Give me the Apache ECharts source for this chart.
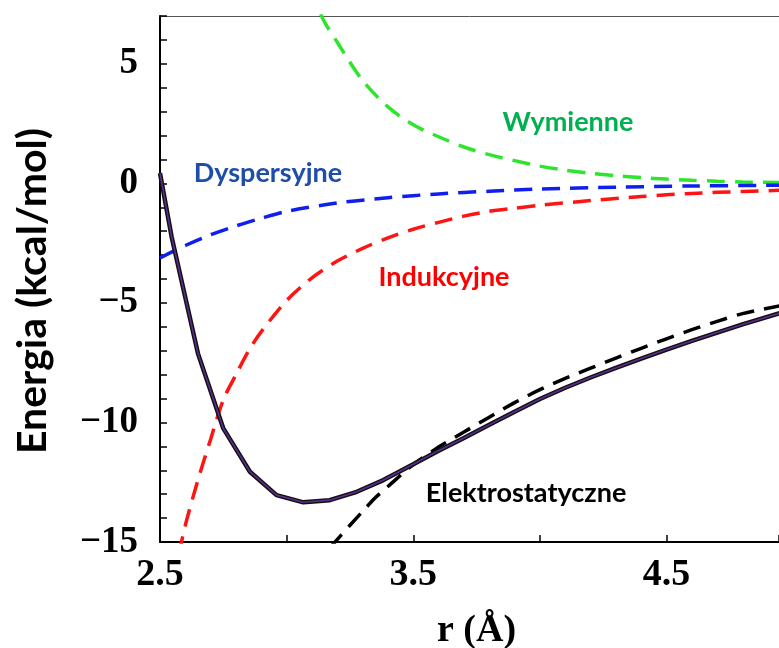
<!DOCTYPE html>
<html>
<head>
<meta charset="utf-8">
<script src="https://cdn.jsdelivr.net/npm/echarts@6/dist/echarts.min.js"></script>
<style>
  html, body { margin: 0; padding: 0; background: #fff; }
  #chart { width: 779px; height: 648px; }
</style>
</head>
<body>
<div id="chart"></div>
<script>
// odległość r (Å) i energie składowe (kcal/mol)
const exchR = [3.10, 3.14, 3.2, 3.3, 3.4, 3.5, 3.6, 3.7, 3.8, 3.9, 4.0, 4.1, 4.2, 4.3, 4.4, 4.5, 4.6, 4.7, 4.8, 4.95];
const exchE = [8.2, 6.95, 5.9, 4.3, 3.2, 2.45, 1.95, 1.52, 1.2, 0.95, 0.72, 0.55, 0.42, 0.32, 0.24, 0.18, 0.13, 0.09, 0.06, 0.03];

const dispR = [2.5, 2.6, 2.7, 2.8, 2.9, 3.0, 3.2, 3.4, 3.6, 3.8, 4.0, 4.3, 4.6, 4.95];
const dispE = [-3.12, -2.6, -2.15, -1.78, -1.46, -1.17, -0.82, -0.6, -0.44, -0.33, -0.24, -0.16, -0.11, -0.08];

const indR = [2.575, 2.6, 2.65, 2.7, 2.75, 2.8, 2.85, 2.9, 3.0, 3.1, 3.2, 3.3, 3.4, 3.5, 3.6, 3.7, 3.8, 3.9, 4.0, 4.2, 4.4, 4.6, 4.8, 4.95];
const indE = [-15.5, -14.3, -12.4, -10.7, -9.05, -8.0, -7.0, -6.2, -4.9, -3.95, -3.25, -2.72, -2.28, -1.92, -1.63, -1.37, -1.17, -1.04, -0.92, -0.72, -0.55, -0.42, -0.34, -0.29];

const elecR = [3.17, 3.25, 3.3, 3.35, 3.4, 3.5, 3.6, 3.7, 3.8, 3.9, 4.0, 4.1, 4.2, 4.3, 4.4, 4.5, 4.6, 4.7, 4.8, 4.95];
const elecE = [-15.25, -14.3, -13.72, -13.15, -12.68, -11.76, -11.03, -10.4, -9.78, -9.17, -8.63, -8.16, -7.73, -7.31, -6.9, -6.5, -6.12, -5.77, -5.45, -5.12];

const totR = [2.5, 2.546, 2.65, 2.75, 2.855, 2.96, 3.066, 3.17, 3.277, 3.382, 3.5, 3.6, 3.7, 3.8, 3.9, 4.0, 4.1, 4.2, 4.3, 4.4, 4.5, 4.6, 4.7, 4.8, 4.95];
const totE = [0.43, -2.24, -7.12, -10.25, -12.06, -13.04, -13.34, -13.25, -12.9, -12.41, -11.75, -11.18, -10.65, -10.1, -9.55, -9.02, -8.55, -8.12, -7.72, -7.33, -6.95, -6.59, -6.24, -5.9, -5.42];

// podpisy krzywych
const labels = ['Wymienne', 'Dyspersyjne', 'Indukcyjne', 'Elektrostatyczne'];

function pairs(xs, ys) {
  return xs.map((x, i) => [x, ys[i]]);
}

const chart = echarts.init(document.getElementById('chart'));

const labelFont = 'bold 27px Lato, "Open Sans", sans-serif';
const serif = '"Liberation Serif", "Times New Roman", serif';

chart.setOption({
  animation: false,
  grid: {
    left: 160,
    right: 0,
    top: 16,
    bottom: 106,
    outerBoundsMode: 'none'
  },
  xAxis: [
    {
      type: 'value',
      min: 2.5,
      max: 4.944,
      interval: 0.5,
      name: 'r (Å)',
      nameLocation: 'middle',
      nameGap: 70,
      nameTextStyle: {
        fontFamily: serif,
        fontWeight: 'bold',
        fontSize: 38,
        color: '#000',
        padding: [0, 0, 0, 14]
      },
      axisLine: { onZero: false, lineStyle: { color: '#000', width: 2 } },
      axisTick: { inside: true, length: 7, lineStyle: { color: '#000', width: 1.5 } },
      splitLine: { show: false },
      axisLabel: {
        margin: 14,
        fontFamily: serif,
        fontWeight: 'bold',
        fontSize: 38,
        color: '#000',
        formatter: function (v) {
          const k = v - 2.5;
          return Math.abs(k - Math.round(k)) < 1e-6 ? v.toFixed(1) : '';
        }
      }
    },
    {
      // górna ramka
      type: 'value',
      position: 'top',
      min: 2.5,
      max: 4.944,
      axisLine: { onZero: false, lineStyle: { color: '#555', width: 1 } },
      axisTick: { show: false },
      axisLabel: { show: false },
      splitLine: { show: false }
    }
  ],
  yAxis: {
    type: 'value',
    min: -15,
    max: 7,
    interval: 1,
    axisLine: { onZero: false, lineStyle: { color: '#000', width: 2 } },
    axisTick: { inside: true, length: 7, lineStyle: { color: '#000', width: 1.5 } },
    splitLine: { show: false },
    axisLabel: {
      margin: 22,
      fontFamily: serif,
      fontWeight: 'bold',
      fontSize: 37,
      color: '#000',
      formatter: function (v) {
        if (v % 5 !== 0 || v > 5) return '';
        return v < 0 ? '\u2212' + Math.abs(v) : String(v);
      }
    }
  },
  series: [
    {
      name: labels[0],
      type: 'line',
      data: pairs(exchR, exchE),
      smooth: 0.3,
      showSymbol: false,
      lineStyle: { color: '#2ee52e', width: 3.5, type: [18, 10] }
    },
    {
      name: labels[1],
      type: 'line',
      data: pairs(dispR, dispE),
      smooth: 0.3,
      showSymbol: false,
      lineStyle: { color: '#0f1ff0', width: 3.5, type: [18, 10] }
    },
    {
      name: labels[2],
      type: 'line',
      data: pairs(indR, indE),
      smooth: 0.3,
      showSymbol: false,
      lineStyle: { color: '#ff1414', width: 3.5, type: [18, 10] }
    },
    {
      name: labels[3],
      type: 'line',
      data: pairs(elecR, elecE),
      smooth: 0.3,
      showSymbol: false,
      lineStyle: { color: '#000', width: 3.5, type: [18, 10] }
    },
    // suma: czarny obrys + fioletowy środek
    {
      name: 'suma',
      type: 'line',
      data: pairs(totR, totE),
      showSymbol: false,
      lineStyle: { color: '#111', width: 4.5 }
    },
    {
      name: 'suma2',
      type: 'line',
      data: pairs(totR, totE),
      showSymbol: false,
      lineStyle: { color: '#5b2d8c', width: 1.6 }
    }
  ],
  graphic: [
    {
      type: 'text', x: 33, y: 291, rotation: Math.PI / 2,
      style: { text: 'Energia (kcal/mol)', fill: '#000', font: 'bold 41px Lato, "Open Sans", sans-serif', align: 'center', verticalAlign: 'middle' }
    },
    { type: 'text', x: 568, y: 122, style: { text: labels[0], fill: '#00b050', font: labelFont, align: 'center', verticalAlign: 'middle' } },
    { type: 'text', x: 268, y: 173, style: { text: labels[1], fill: '#1f4ea8', font: labelFont, align: 'center', verticalAlign: 'middle' } },
    { type: 'text', x: 444, y: 277, style: { text: labels[2], fill: '#ff0000', font: labelFont, align: 'center', verticalAlign: 'middle' } },
    { type: 'text', x: 526, y: 493, style: { text: labels[3], fill: '#000', font: labelFont, align: 'center', verticalAlign: 'middle' } }
  ]
});
</script>
</body>
</html>
